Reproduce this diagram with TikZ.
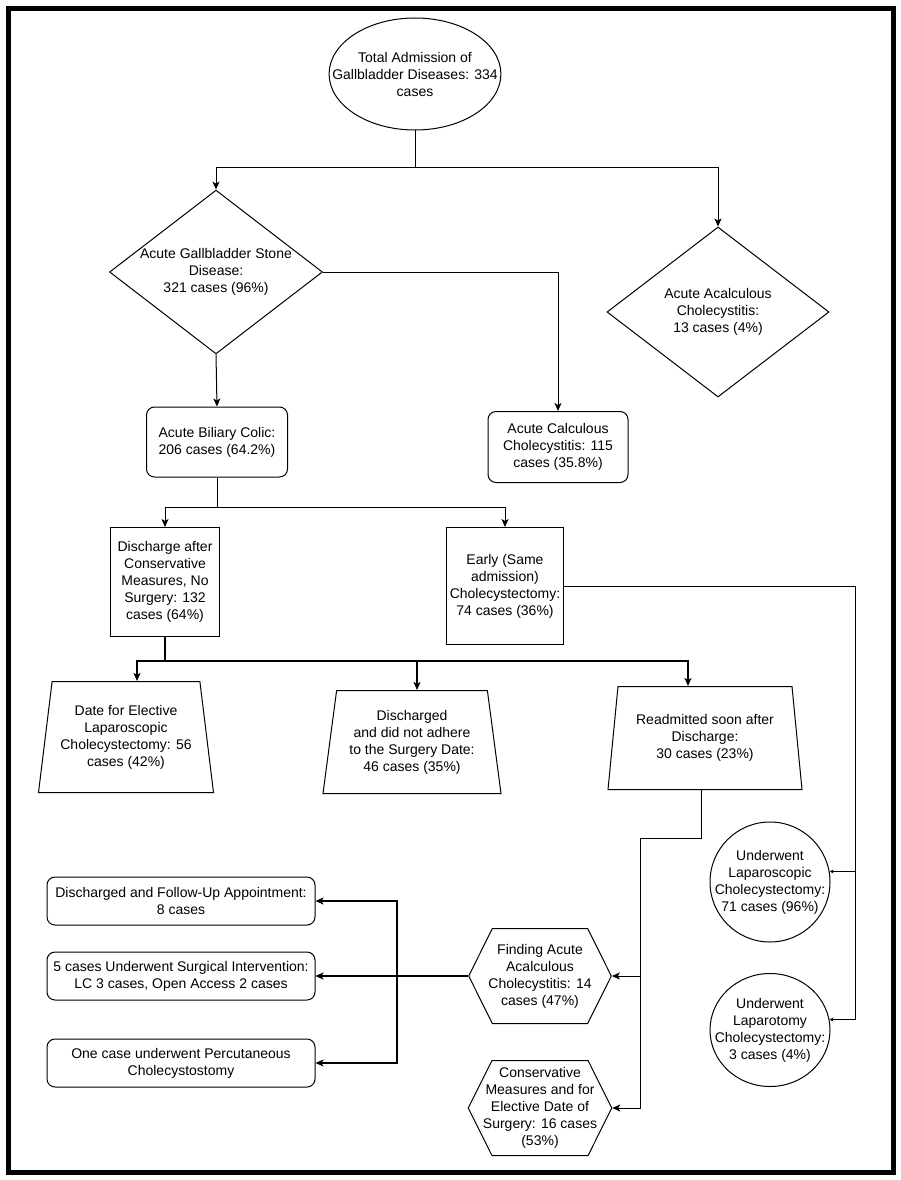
\documentclass[tikz,border=0pt]{standalone}
\usepackage{fontspec}
\setmainfont{Liberation Sans}
\usetikzlibrary{shapes.geometric,shapes.symbols,arrows.meta}

\begin{document}
\begin{tikzpicture}[x=1pt, y=-1pt,
        >={Stealth[length=8pt, width=7pt, inset=2pt]},
        every node/.style={font=\fontsize{14}{17}\selectfont, align=center, line width=1pt},
        link/.style={->, line width=1pt},
        boldlink/.style={->, line width=1.5pt},
        smalllink/.style={-{Stealth[length=4pt, width=4pt]}, line width=1pt},
        oval/.style={ellipse, draw, inner ysep=0pt},
        decision/.style={diamond, draw, inner sep=0pt},
        roundbox/.style={rectangle, draw, rounded corners=8pt, minimum width=268pt, minimum height=48pt},
        plainbox/.style={rectangle, draw},
        trap/.style={trapezium, draw, trapezium left angle=78, trapezium right angle=78,
            trapezium stretches body, inner sep=0pt},
        hexa/.style={signal, signal to=west and east, signal pointer angle=127, draw,
            inner ysep=0pt, minimum height=95pt}
    ]
        \useasboundingbox (0,0) rectangle (901,1180);
        \draw[line width=5pt] (8.5,8.5) rectangle (893.5,1172.5);

        \node[oval, minimum width=170pt, minimum height=112pt, inner xsep=-22pt] (total) at (415,74)
            {Total Admission of\\Gallbladder Diseases: 334\\cases};
        \node[decision, shape aspect=1.3, minimum width=211pt, minimum height=163pt] (stone) at (216,272)
            {Acute Gallbladder Stone\\Disease:\\321 cases (96\%)};
        \node[decision, minimum width=222pt, minimum height=170pt] (acal) at (718,312)
            {Acute Acalculous\\Cholecystitis:\\13 cases (4\%)};

        \node[roundbox, minimum width=141pt, minimum height=70pt] (colic) at (217,442)
            {Acute Biliary Colic:\\206 cases (64.2\%)};
        \node[roundbox, minimum width=140pt, minimum height=71pt] (calc) at (558,447)
            {Acute Calculous\\Cholecystitis: 115\\cases (35.8\%)};

        \node[plainbox, minimum width=109pt, minimum height=109pt] (disch) at (165,582)
            {Discharge after\\Conservative\\Measures, No\\Surgery: 132\\cases (64\%)};
        \node[plainbox, minimum width=117pt, minimum height=117pt] (early) at (505,586)
            {Early (Same\\admission)\\Cholecystectomy:\\74 cases (36\%)};

        \node[trap, minimum width=175pt, minimum height=111pt] (date) at (126,737)
            {Date for Elective\\Laparoscopic\\Cholecystectomy: 56\\cases (42\%)};
        \node[trap, minimum width=178pt, minimum height=103pt] (nonad) at (412,742)
            {Discharged\\and did not adhere\\to the Surgery Date:\\46 cases (35\%)};
        \node[trap, minimum width=194pt, minimum height=103pt] (readm) at (705,738)
            {Readmitted soon after\\Discharge:\\30 cases (23\%)};

        \node[oval, minimum width=120pt, minimum height=120pt, inner xsep=-13pt] (lap) at (770,882)
            {Underwent\\Laparoscopic\\Cholecystectomy:\\71 cases (96\%)};
        \node[oval, minimum width=120pt, minimum height=113pt, inner xsep=-13pt] (lapt) at (770,1030)
            {Underwent\\Laparotomy\\Cholecystectomy:\\3 cases (4\%)};

        \node[hexa, inner xsep=-4pt] (hex1) at (540,976)
            {Finding Acute\\Acalculous\\Cholecystitis: 14\\cases (47\%)};
        \node[hexa, inner xsep=-9pt] (hex2) at (540,1108)
            {Conservative\\Measures and for\\Elective Date of\\Surgery: 16 cases\\(53\%)};

        \foreach \name/\y/\txt in {fu1/901/{Discharged and Follow-Up Appointment:\\8 cases},
                fu2/976/{5 cases Underwent Surgical Intervention:\\LC 3 cases, Open Access 2 cases},
                fu3/1063/{One case underwent Percutaneous\\Cholecystostomy}} {
            \node[roundbox] (\name) at (181,\y) {\txt};
        }

        \draw[line width=1pt] (total.south) -- ++(0,37) coordinate (split1);
        \draw[link] (split1) -| (stone.north);
        \draw[link] (split1) -| (acal.north);
        \draw[link] (stone.east) -| (calc.north);
        \draw[link] (stone.south) -- (colic.north);

        \draw[line width=1pt] (colic.south) -- ++(0,30) coordinate (split2);
        \draw[link] (split2) -| (disch.north);
        \draw[link] (split2) -| (early.north);

        \coordinate (rtrunk) at (855,0);
        \draw[smalllink] (early.east) -| (rtrunk |- lapt.10) -- (lapt.10);
        \draw[smalllink] (rtrunk |- lap.10) -- (lap.10);

        \draw[line width=1.5pt] (disch.south) -- ++(0,24) coordinate (split3);
        \draw[boldlink] (split3) -| ([xshift=11pt]date.north);
        \draw[boldlink] (split3) -| ([xshift=5pt]nonad.north);
        \draw[boldlink] (split3) -| ([xshift=-17pt]readm.north);

        \coordinate (mtrunk) at (640,838);
        \draw[link] ([xshift=-4pt]readm.south) |- (mtrunk) |- (hex2.east);
        \draw[link] (mtrunk |- hex1.east) -- (hex1.east);

        \coordinate (ltrunk) at (397,0);
        \draw[boldlink] (hex1.west) -- (fu2.east);
        \draw[boldlink, <->] (fu1.east) -| (ltrunk |- fu3.east) -- (fu3.east);
    \end{tikzpicture}
\end{document}
